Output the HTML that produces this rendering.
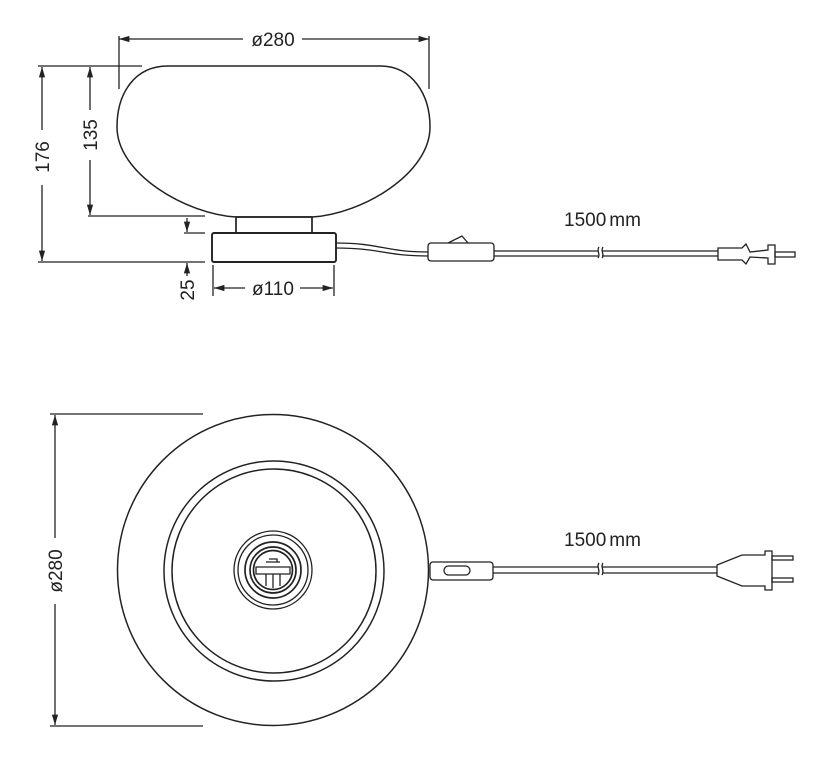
<!DOCTYPE html>
<html><head><meta charset="utf-8"><style>html,body{margin:0;padding:0;background:#fff}svg{display:block}text{font-family:"Liberation Sans",sans-serif;font-size:19px;fill:#222}</style></head>
<body>
<svg width="834" height="765" viewBox="0 0 834 765" xmlns="http://www.w3.org/2000/svg">
<defs><marker id="a" viewBox="0 0 10 10" refX="10" refY="5" markerWidth="8" markerHeight="8" orient="auto-start-reverse"><path d="M0,2 L10,5 L0,8 Z" fill="#222"/></marker></defs>
<g stroke="#222" fill="none" stroke-width="1.3">
<path d="M168,66 L380,66 C412,66 430,94 430,127 C430,174 362,214 312,217 L236,217 C186,214 117,174 117,127 C117,94 134,66 168,66 Z" stroke-width="1.5"/>
<rect x="236" y="217" width="76" height="16" stroke-width="1.7"/>
<rect x="212" y="233" width="124" height="29" rx="2" stroke-width="1.9"/>
<path d="M336,243 C380,243 385,252 428,252 M336,248 C380,248 385,256 428,256"/>
<rect x="428" y="243" width="66" height="18" rx="3"/>
<path d="M448,243 L462,236 L468,243"/>
<path d="M494,251 L598,251 M494,256 L598,256 M602,251 L718,251 M602,256 L718,256"/>
<path d="M599,247 C596,251 601,254 598,258 M603,247 C600,251 605,254 602,258"/>
<path d="M718,248 L742,248 L746,244 L750,252 L768,250 L768,245 L775,245 L775,264 L768,264 L768,258 L750,257 L746,264 L742,260 L718,260 Z"/>
<rect x="775" y="252" width="20" height="5"/>
<path d="M119,39 L243,39 M302,39 L429,39" marker-start="url(#a)" marker-end="url(#a)"/>
<path d="M119,36 L119,89 M429,36 L429,89"/>
<path d="M38,66 L142,66 M38,262 L205,262 M88,216 L205,216 M184,233 L205,233"/>
<path d="M42,67 L42,130 M42,185 L42,261" marker-start="url(#a)" marker-end="url(#a)"/>
<path d="M90,67 L90,110 M90,160 L90,215" marker-start="url(#a)" marker-end="url(#a)"/>
<path d="M187,218 L187,232" marker-end="url(#a)"/>
<path d="M187,276 L187,263" marker-end="url(#a)"/>
<path d="M213,265 L213,296 M334,265 L334,296"/>
<path d="M214,288 L245,288 M300,288 L333,288" marker-start="url(#a)" marker-end="url(#a)"/>
<circle cx="273" cy="570" r="155.5" stroke-width="1.5"/>
<circle cx="274" cy="571" r="110" stroke-width="1.5"/>
<circle cx="274" cy="571" r="102" stroke-width="1.5"/>
<circle cx="273" cy="570" r="39"/>
<circle cx="273" cy="570" r="35"/>
<circle cx="273" cy="570" r="28" stroke-width="1.7"/>
<circle cx="273" cy="570" r="23" stroke-width="1.7"/>
<circle cx="273" cy="570" r="19.5" stroke-width="1.7"/>
<path d="M256,567 L290,567 L290,574 L256,574 Z M266,562 L280,562 M269,559 L277,559 L277,562 M266,574 L266,586 M280,574 L280,586 M273,574 L273,588"/>
<path d="M50,414 L203,414 M50,726 L203,726"/>
<path d="M55,415 L55,538 M55,604 L55,725" marker-start="url(#a)" marker-end="url(#a)"/>
<rect x="430" y="562" width="63" height="18" rx="3"/>
<rect x="444" y="566" width="26" height="9" rx="4.5"/>
<path d="M493,567 L598,567 M493,573 L598,573 M602,567 L717,567 M602,573 L717,573"/>
<path d="M599,563 C596,567 601,570 598,575 M603,563 C600,567 605,570 602,575"/>
<path d="M717,565 L742,555 L765,555 L765,551 L772,551 L772,590 L765,590 L765,586 L742,586 L717,576 Z"/>
<rect x="772" y="556" width="21" height="4"/>
<rect x="772" y="578" width="21" height="4"/>
</g>
<text x="273" y="46" text-anchor="middle">ø280</text>
<text x="273" y="295" text-anchor="middle">ø110</text>
<text x="564" y="226">1500<tspan dx="3">mm</tspan></text>
<text x="564" y="546">1500<tspan dx="3">mm</tspan></text>
<text transform="translate(49,157) rotate(-90)" text-anchor="middle">176</text>
<text transform="translate(97,135) rotate(-90)" text-anchor="middle">135</text>
<text transform="translate(194,290) rotate(-90)" text-anchor="middle">25</text>
<text transform="translate(62,571) rotate(-90)" text-anchor="middle">ø280</text>
</svg>
</body></html>
